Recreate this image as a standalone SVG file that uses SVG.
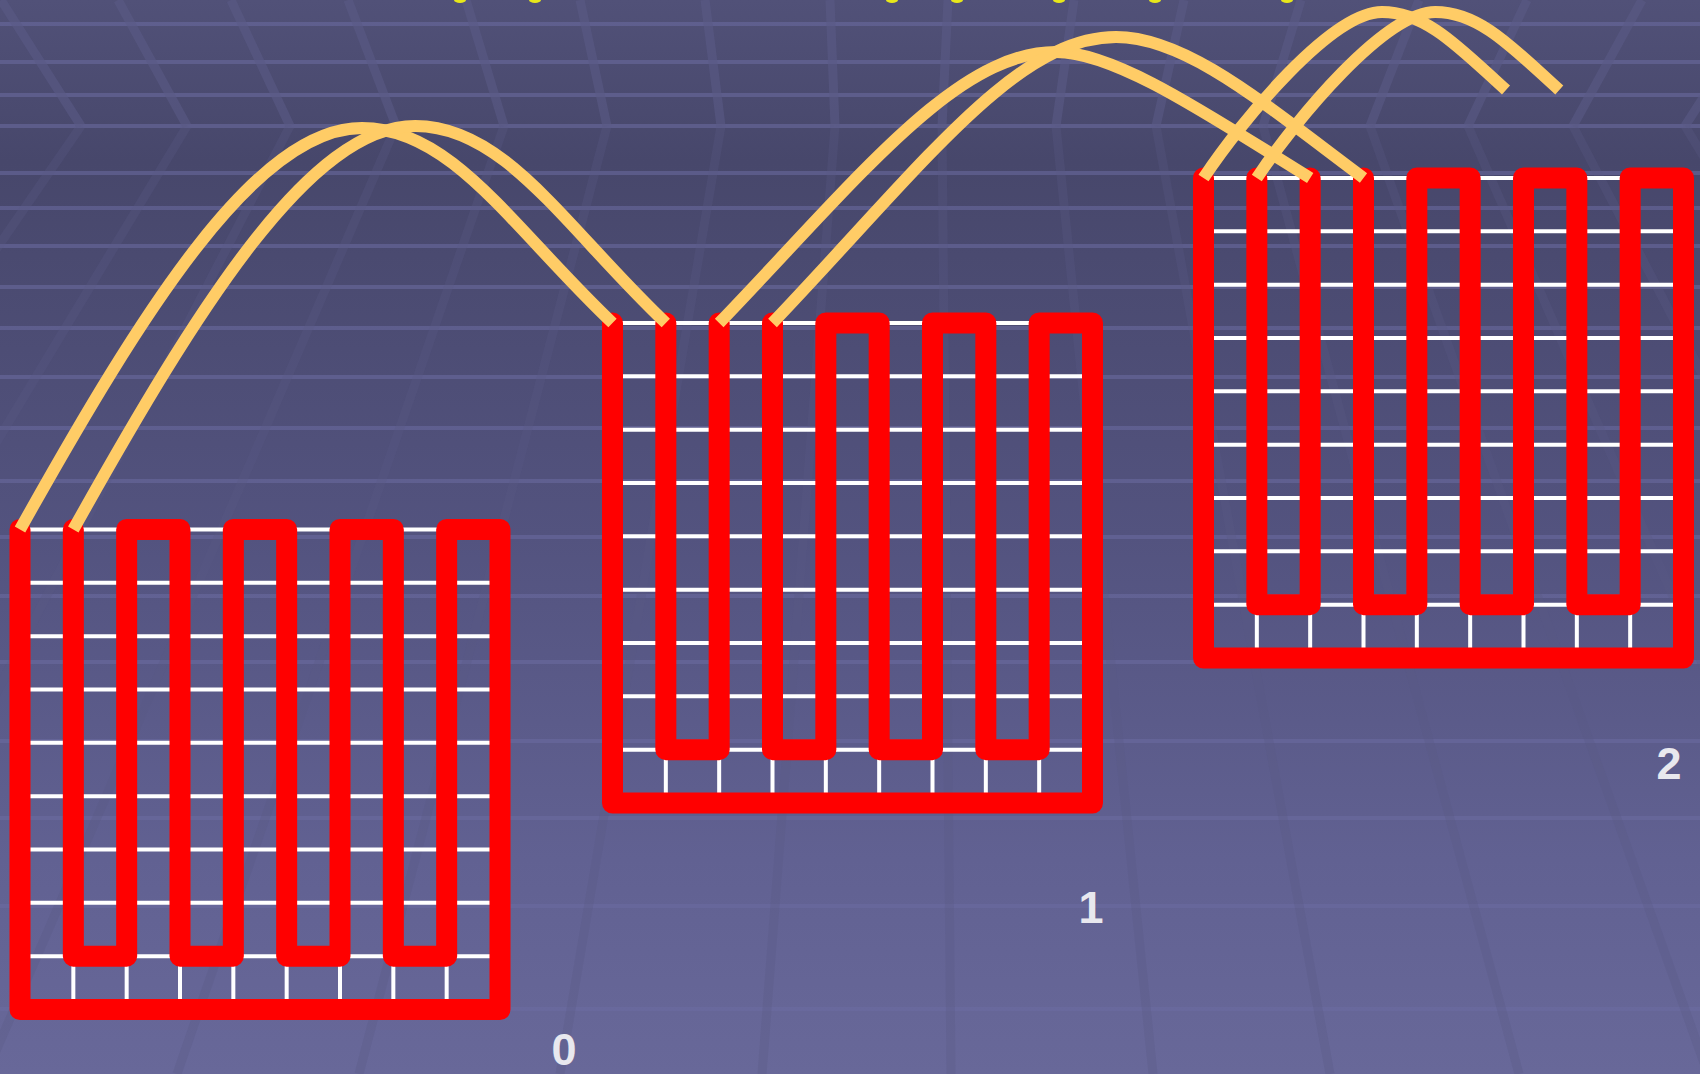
<svg xmlns="http://www.w3.org/2000/svg" xmlns:xlink="http://www.w3.org/1999/xlink" width="1700" height="1074" viewBox="0 0 1700 1074">
<defs>
  <linearGradient id="bgGrad" x1="0" y1="0" x2="0" y2="1">
    <stop offset="0" stop-color="#515178"/>
    <stop offset="0.15" stop-color="#47476b"/>
    <stop offset="0.5" stop-color="#53537f"/>
    <stop offset="0.8" stop-color="#616192"/>
    <stop offset="1" stop-color="#686899"/>
  </linearGradient>
  <style>
    .hl{stroke:#6c6ca2;stroke-width:4;opacity:0.55}
    .dgu{fill:none;stroke:#5a5a86;stroke-width:9;opacity:0.6}
    .dgl{fill:none;stroke:#5a5a86;stroke-width:9;opacity:0.3}
    .grid{fill:none;stroke:#ffffff;stroke-width:4}
    .red{fill:none;stroke:#ff0000;stroke-width:21;stroke-linejoin:round;stroke-linecap:round}
    .arc{fill:none;stroke:#ffcc66;stroke-width:12;stroke-linecap:butt}
    .lbl{font-family:"Liberation Sans",Arial,sans-serif;font-weight:bold;font-size:45px;fill:#e8e8ee;text-anchor:middle}
    .dot{fill:#e8e81a}
  </style>
  <path id="gridLines" class="grid" d="M0,0H480 M0,53.333H480 M0,106.667H480 M0,160H480 M0,213.333H480 M0,266.667H480 M0,320H480 M0,373.333H480 M0,426.667H480 M53.333,0V480 M106.667,0V480 M160,0V480 M213.333,0V480 M266.667,0V480 M320,0V480 M373.333,0V480 M426.667,0V480"/>
</defs>

<g id="background">
  <rect x="0" y="0" width="1700" height="1074" fill="url(#bgGrad)"/>
  <g id="bg-horizontal">
    <line class="hl" x1="0" y1="24" x2="1700" y2="24"/>
    <line class="hl" x1="0" y1="62" x2="1700" y2="62"/>
    <line class="hl" x1="0" y1="95" x2="1700" y2="95"/>
    <line class="hl" x1="0" y1="126" x2="1700" y2="126"/>
    <line class="hl" x1="0" y1="173" x2="1700" y2="173"/>
    <line class="hl" x1="0" y1="208" x2="1700" y2="208"/>
    <line class="hl" x1="0" y1="246" x2="1700" y2="246"/>
    <line class="hl" x1="0" y1="287" x2="1700" y2="287"/>
    <line class="hl" x1="0" y1="328" x2="1700" y2="328"/>
    <line class="hl" x1="0" y1="377" x2="1700" y2="377"/>
    <line class="hl" x1="0" y1="428" x2="1700" y2="428"/>
    <line class="hl" x1="0" y1="481" x2="1700" y2="481"/>
    <line class="hl" x1="0" y1="537" x2="1700" y2="537"/>
    <line class="hl" x1="0" y1="596" x2="1700" y2="596"/>
    <line class="hl" x1="0" y1="662" x2="1700" y2="662"/>
    <line class="hl" x1="0" y1="741" x2="1700" y2="741"/>
    <line class="hl" x1="0" y1="818" x2="1700" y2="818"/>
    <line class="hl" x1="0" y1="906" x2="1700" y2="906"/>
    <line class="hl" x1="0" y1="1009" x2="1700" y2="1009"/>
  </g>
  <g id="bg-diagonal-upper">
    <line class="dgu" x1="-115" y1="0" x2="-25" y2="126"/>
    <line class="dgu" x1="1" y1="0" x2="81" y2="126"/>
    <line class="dgu" x1="118" y1="0" x2="187" y2="126"/>
    <line class="dgu" x1="231" y1="0" x2="290" y2="126"/>
    <line class="dgu" x1="348" y1="0" x2="396" y2="126"/>
    <line class="dgu" x1="466" y1="0" x2="504" y2="126"/>
    <line class="dgu" x1="580" y1="0" x2="607" y2="126"/>
    <line class="dgu" x1="705" y1="0" x2="721" y2="126"/>
    <line class="dgu" x1="830" y1="0" x2="835" y2="126"/>
    <line class="dgu" x1="948" y1="0" x2="942" y2="126"/>
    <line class="dgu" x1="1074" y1="0" x2="1056" y2="126"/>
    <line class="dgu" x1="1184" y1="0" x2="1156" y2="126"/>
    <line class="dgu" x1="1301" y1="0" x2="1263" y2="126"/>
    <line class="dgu" x1="1419" y1="0" x2="1370" y2="126"/>
    <line class="dgu" x1="1527" y1="0" x2="1468" y2="126"/>
    <line class="dgu" x1="1642" y1="0" x2="1573" y2="126"/>
    <line class="dgu" x1="1766" y1="0" x2="1685" y2="126"/>
  </g>
  <g id="bg-diagonal-lower">
    <line class="dgl" x1="-25" y1="126" x2="-758" y2="1074"/>
    <line class="dgl" x1="81" y1="126" x2="-571" y2="1074"/>
    <line class="dgl" x1="187" y1="126" x2="-384" y2="1074"/>
    <line class="dgl" x1="290" y1="126" x2="-201" y2="1074"/>
    <line class="dgl" x1="396" y1="126" x2="-14" y2="1074"/>
    <line class="dgl" x1="504" y1="126" x2="177" y2="1074"/>
    <line class="dgl" x1="607" y1="126" x2="359" y2="1074"/>
    <line class="dgl" x1="721" y1="126" x2="560" y2="1074"/>
    <line class="dgl" x1="835" y1="126" x2="762" y2="1074"/>
    <line class="dgl" x1="942" y1="126" x2="951" y2="1074"/>
    <line class="dgl" x1="1056" y1="126" x2="1153" y2="1074"/>
    <line class="dgl" x1="1156" y1="126" x2="1330" y2="1074"/>
    <line class="dgl" x1="1263" y1="126" x2="1519" y2="1074"/>
    <line class="dgl" x1="1370" y1="126" x2="1708" y2="1074"/>
    <line class="dgl" x1="1468" y1="126" x2="1881" y2="1074"/>
    <line class="dgl" x1="1573" y1="126" x2="2067" y2="1074"/>
    <line class="dgl" x1="1685" y1="126" x2="2265" y2="1074"/>
  </g>
  <g id="top-specks">
    <ellipse class="dot" cx="460" cy="0" rx="6" ry="3"/>
    <ellipse class="dot" cx="535" cy="0" rx="6" ry="3"/>
    <ellipse class="dot" cx="892" cy="0" rx="6" ry="3"/>
    <ellipse class="dot" cx="957" cy="0" rx="6" ry="3"/>
    <ellipse class="dot" cx="1059" cy="0" rx="6" ry="3"/>
    <ellipse class="dot" cx="1155" cy="0" rx="6" ry="3"/>
    <ellipse class="dot" cx="1287" cy="0" rx="6" ry="3"/>
  </g>
</g>

<g id="block0" transform="translate(20,529.5)">
  <use xlink:href="#gridLines" href="#gridLines"/>
  <path class="red" d="M0,0 V480 H480 V0 H426.667 V426.667 H373.333 V0 H320 V426.667 H266.667 V0 H213.333 V426.667 H160 V0 H106.667 V426.667 H53.333 V0"/>
  <text class="lbl" x="544" y="535.5">0</text>
</g>

<g id="block1" transform="translate(612.5,323)">
  <use xlink:href="#gridLines" href="#gridLines"/>
  <path class="red" d="M0,0 V480 H480 V0 H426.667 V426.667 H373.333 V0 H320 V426.667 H266.667 V0 H213.333 V426.667 H160 V0 M53.333,0 V426.667 H106.667 V0"/>
  <text class="lbl" x="478.5" y="600">1</text>
</g>

<g id="block2" transform="translate(1203.5,178)">
  <use xlink:href="#gridLines" href="#gridLines"/>
  <path class="red" d="M0,0 V480 H480 V0 H426.667 V426.667 H373.333 V0 H320 V426.667 H266.667 V0 H213.333 V426.667 H160 V0 M53.333,0 V426.667 H106.667 V0"/>
  <text class="lbl" x="465.5" y="601">2</text>
</g>

<g id="connectors">
  <path id="arcA" class="arc" d="M20,529.5 C145,306 257,128 362,128 C452,128 512.5,228 612.5,323"/>
  <path id="arcB" class="arc" d="M73.3,529.5 C198.3,306 310.3,126 415.3,126 C505.3,126 565.8,228 665.8,323"/>
  <path id="arcC" class="arc" d="M719.2,323 C859.2,177.4 956,52 1056,52 C1116,52 1210,116 1310.2,178"/>
  <path id="arcD" class="arc" d="M772.5,323 C922.5,165.5 1016,37 1116,37 C1186,37 1263,103 1363.5,178"/>
  <path id="arcE" class="arc" d="M1203.5,178 C1243.5,118 1332,12 1382,12 C1427,12 1461,49.5 1506,90"/>
  <path id="arcF" class="arc" d="M1256.8,178 C1296.8,118 1385.3,12 1435.3,12 C1480.3,12 1514.3,49.5 1559.3,90"/>
</g>
</svg>
